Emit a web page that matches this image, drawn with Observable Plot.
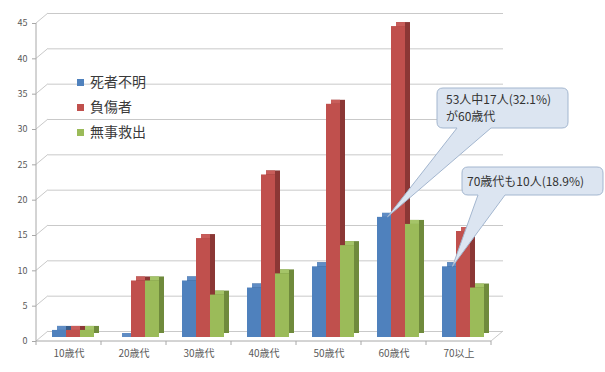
<!DOCTYPE html>
<html lang="ja">
<head>
<meta charset="utf-8">
<script src="https://cdn.jsdelivr.net/npm/d3@7"></script>
<script src="https://cdn.jsdelivr.net/npm/@observablehq/plot@0.6"></script>
<style>
  html, body { margin: 0; padding: 0; background: #fff; }
  #chart { position: relative; width: 605px; height: 372px; overflow: hidden; }
  #chart svg { display: block; }
  .legend { position: absolute; left: 77px; top: 68px; font-family: "Noto Sans CJK JP", sans-serif; font-size: 14px; color: #3a3a3a; }
  .legend div { height: 25px; line-height: 20px; display: flex; align-items: center; white-space: nowrap; }
  .legend span.sw { display: inline-block; width: 7px; height: 7px; margin-right: 6px; margin-top: 3px; }
</style>
</head>
<body>
<div id="chart"></div>
<script>
// Age groups on the horizontal axis
const ages = ["10歳代", "20歳代", "30歳代", "40歳代", "50歳代", "60歳代", "70以上"];
// Series names
const seriesNames = ["死者不明", "負傷者", "無事救出"];
// Counts per age group
const missing = [1, 0, 8, 7, 10, 17, 10];
const injured = [1, 8, 14, 23, 33, 44, 15];
const rescued = [1, 8, 6, 9, 13, 16, 7];
// Vertical axis ticks
const yTicks = [0, 5, 10, 15, 20, 25, 30, 35, 40, 45];
// Callout texts, attached to the 死者不明 bar of an age group
const calloutAges = ["60歳代", "70以上"];
const calloutTexts = [["53人中17人(32.1%)", "が60歳代"], ["70歳代も10人(18.9%)"]];

// Styling
const frontColors = ["#4f81bd", "#c0504d", "#9bbb59"];
const sideColors = ["#385d8a", "#8b3735", "#6f8a3c"];
const topColors = ["#5f8cc4", "#c85d5a", "#a5c468"];
const gridColor = "#c9c9c9";
const axisColor = "#a8a8a8";
const depth = {dx: 12, dy: -10};       // back wall offset
const mid = {dx: 4, dy: -4};           // bar front face offset
const ext = {dx: 5, dy: -4};           // bar extrusion

const seriesValues = [missing, injured, rescued];
const rows = ages.flatMap((age, i) =>
  seriesNames.map((series, j) => ({age, series, value: seriesValues[j][i]}))
);

const barMarks = seriesNames.flatMap((name, j) => {
  const d = rows.filter(r => r.series === name);
  const common = {fx: "age", x: "series"};
  return [
    // side (and back) of the extruded bar
    Plot.barY(d, {...common, y: "value", fill: sideColors[j],
      dx: mid.dx + ext.dx, dy: mid.dy + ext.dy}),
    // top face
    Plot.barY(d, {...common, y1: "value", y2: "value", fill: topColors[j],
      dx: mid.dx + ext.dx, dy: mid.dy + ext.dy, insetRight: ext.dx, insetBottom: ext.dy}),
    // front face
    Plot.barY(d, {...common, y: "value", fill: frontColors[j], dx: mid.dx, dy: mid.dy})
  ];
});

const plot = Plot.plot({
  width: 605,
  height: 372,
  marginLeft: 33,
  marginRight: 112,
  marginTop: 23,
  marginBottom: 31,
  style: {
    fontFamily: '"Noto Sans CJK JP", "Noto Sans", sans-serif',
    fontSize: "9px",
    color: "#5a5a5a",
    background: "#fff",
    overflow: "visible"
  },
  fx: {domain: ages, padding: 0, label: null},
  x: {domain: seriesNames, paddingInner: 0, paddingOuter: 0.74, axis: null},
  y: {domain: [0, 45], label: null},
  marks: [
    Plot.gridY(yTicks, {dx: depth.dx, dy: depth.dy, stroke: gridColor, strokeOpacity: 1}),
    Plot.axisY(yTicks, {tickSize: 4, tickPadding: 5, label: null, stroke: axisColor}),
    Plot.axisFx({anchor: "bottom", tickSize: 0, tickPadding: 8, label: null, fontSize: 10}),
    ...barMarks
  ]
});

document.getElementById("chart").appendChild(plot);

// Walls, floor and axis line of the 3D frame
const ys = plot.scale("y");
const fxs = plot.scale("fx");
const xs = plot.scale("x");
const left = fxs.apply(ages[0]);
const right = fxs.apply(ages[ages.length - 1]) + fxs.bandwidth;
const y0 = ys.apply(0);
const yTop = ys.apply(45);

const svg = d3.select(plot);
const deco = svg.insert("g", "g").attr("fill", "none");
yTicks.forEach(v => {
  deco.append("line")
    .attr("x1", left).attr("y1", ys.apply(v))
    .attr("x2", left + depth.dx).attr("y2", ys.apply(v) + depth.dy)
    .attr("stroke", gridColor);
});
deco.append("line")
  .attr("x1", right).attr("y1", y0)
  .attr("x2", right + depth.dx).attr("y2", y0 + depth.dy)
  .attr("stroke", gridColor);
deco.append("line")
  .attr("x1", left).attr("y1", y0).attr("x2", left).attr("y2", yTop)
  .attr("stroke", axisColor);
deco.append("line")
  .attr("x1", left).attr("y1", y0).attr("x2", right).attr("y2", y0)
  .attr("stroke", axisColor);
[...ages.map(a => fxs.apply(a)), right].forEach(x => {
  deco.append("line")
    .attr("x1", x).attr("y1", y0).attr("x2", x).attr("y2", y0 + 4)
    .attr("stroke", axisColor);
});

// Callout bubbles pointing at the 死者不明 bars
const boxes = [
  {x0: 437, y0: 88, x1: 568, y1: 128, ta: 457, tb: 491, lineY: [104, 121], tx: 446},
  {x0: 462, y0: 167, x1: 603, y1: 195, ta: 478, tb: 505, lineY: [186], tx: 467}
];
const r = 6;
const callG = svg.append("g").attr("text-anchor", "start");
calloutAges.forEach((age, k) => {
  const i = ages.indexOf(age);
  const b = boxes[k];
  const tipX = fxs.apply(age) + (xs.apply(seriesNames[0]) - xs.range[0]) + xs.bandwidth * 0.75 + mid.dx;
  const tipY = ys.apply(missing[i]) + mid.dy;
  const path = `M${b.x0 + r},${b.y0} H${b.x1 - r} Q${b.x1},${b.y0} ${b.x1},${b.y0 + r} V${b.y1 - r} Q${b.x1},${b.y1} ${b.x1 - r},${b.y1} H${b.tb} L${tipX},${tipY} L${b.ta},${b.y1} H${b.x0 + r} Q${b.x0},${b.y1} ${b.x0},${b.y1 - r} V${b.y0 + r} Q${b.x0},${b.y0} ${b.x0 + r},${b.y0} Z`;
  callG.append("path")
    .attr("d", path)
    .attr("fill", "#dce5f1")
    .attr("stroke", "#a3b6cf")
    .attr("stroke-width", 1);
  calloutTexts[k].forEach((t, n) => {
    callG.append("text")
      .attr("x", b.tx).attr("y", b.lineY[n])
      .attr("text-anchor", "start")
      .attr("fill", "#333")
      .attr("font-size", "12px")
      .attr("font-family", '"Noto Sans CJK JP", sans-serif')
      .text(t);
  });
});

// Legend
const legend = document.createElement("div");
legend.className = "legend";
seriesNames.forEach((name, j) => {
  const row = document.createElement("div");
  const sw = document.createElement("span");
  sw.className = "sw";
  sw.style.background = frontColors[j];
  row.appendChild(sw);
  row.appendChild(document.createTextNode(name));
  legend.appendChild(row);
});
document.getElementById("chart").appendChild(legend);
</script>
</body>
</html>
